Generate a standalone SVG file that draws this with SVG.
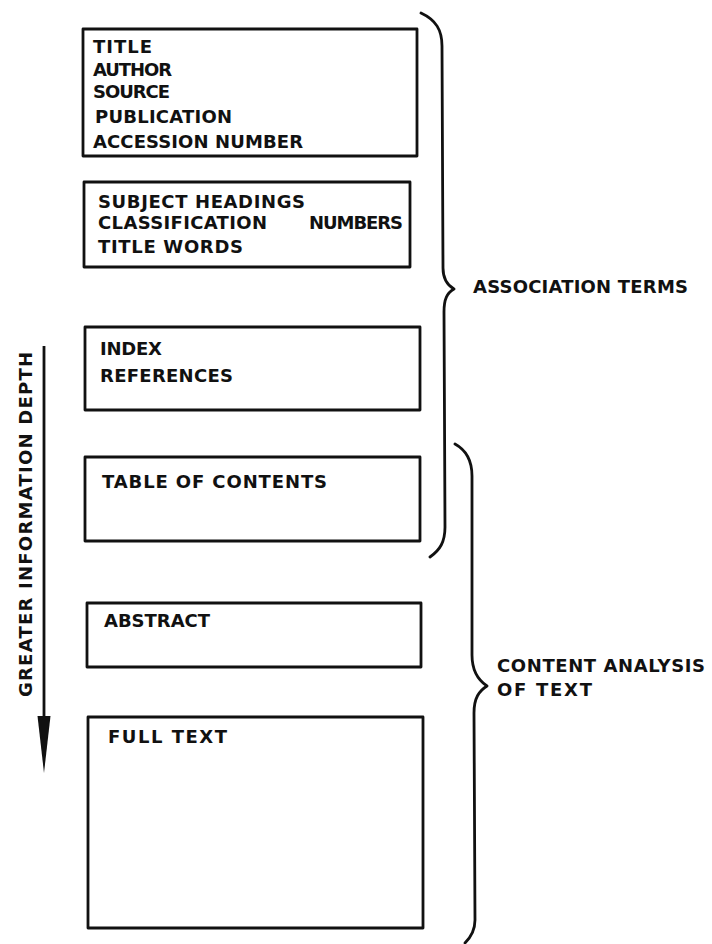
<svg xmlns="http://www.w3.org/2000/svg" width="712" height="944" viewBox="0 0 712 944">
  <style>
    .box { fill: none; stroke: #111; stroke-width: 2.8; stroke-linejoin: round; }
    .brace { fill: none; stroke: #111; stroke-width: 2.8; stroke-linecap: round; stroke-linejoin: round; }
    .lbl { font-family: "DejaVu Sans", "Liberation Sans", sans-serif; font-weight: bold; font-size: 18px; fill: #111; }
  </style>
  <rect width="712" height="944" fill="#fff"/>

  <!-- record levels, shallow to deep -->
  <g id="node-bibliographic">
    <rect class="box" x="83" y="29" width="334" height="127"/>
    <text class="lbl" x="93" y="53" textLength="59" lengthAdjust="spacing">TITLE</text>
    <text class="lbl" x="93" y="76" textLength="79" lengthAdjust="spacing">AUTHOR</text>
    <text class="lbl" x="93" y="98" textLength="77" lengthAdjust="spacing">SOURCE</text>
    <text class="lbl" x="95" y="123" textLength="137" lengthAdjust="spacing">PUBLICATION</text>
    <text class="lbl" x="93" y="148" textLength="210" lengthAdjust="spacing">ACCESSION NUMBER</text>
  </g>

  <g id="node-subject">
    <rect class="box" x="84" y="182" width="326" height="85"/>
    <text class="lbl" x="98" y="208" textLength="207" lengthAdjust="spacing">SUBJECT HEADINGS</text>
    <text class="lbl" x="98" y="229" textLength="169" lengthAdjust="spacing">CLASSIFICATION</text>
    <text class="lbl" x="309" y="229" textLength="94" lengthAdjust="spacing">NUMBERS</text>
    <text class="lbl" x="98" y="253" textLength="145" lengthAdjust="spacing">TITLE WORDS</text>
  </g>

  <g id="node-index">
    <rect class="box" x="85" y="327" width="335" height="83"/>
    <text class="lbl" x="100" y="355" textLength="62" lengthAdjust="spacing">INDEX</text>
    <text class="lbl" x="100" y="382" textLength="133" lengthAdjust="spacing">REFERENCES</text>
  </g>

  <g id="node-contents">
    <rect class="box" x="85" y="457" width="335" height="84"/>
    <text class="lbl" x="102" y="488" textLength="225" lengthAdjust="spacing">TABLE OF CONTENTS</text>
  </g>

  <g id="node-abstract">
    <rect class="box" x="87" y="603" width="334" height="64"/>
    <text class="lbl" x="104" y="627" textLength="106" lengthAdjust="spacing">ABSTRACT</text>
  </g>

  <g id="node-fulltext">
    <rect class="box" x="88" y="717" width="335" height="211"/>
    <text class="lbl" x="108" y="743" textLength="119" lengthAdjust="spacing">FULL TEXT</text>
  </g>

  <!-- depth axis and the two braces -->
  <g id="connectors">
    <line x1="44" y1="346" x2="44" y2="722" stroke="#111" stroke-width="2.8"/>
    <polygon points="37.5,716 50.5,716 44,773" fill="#111"/>

    <path class="brace" d="M421,13 C436,20 442,30 442,46 L443,268 C443,279 447,285 454,289 C447,293 444,299 444,312 L445,527 C445,542 440,550 430,557"/>
    <path class="brace" d="M455,444 C466,450 472,460 472,476 L472,655 C472,670 478,680 487,686 C479,691 474,698 474,713 L475,920 C475,930 471,937 465,943"/>
  </g>

  <g id="labels">
    <text class="lbl" transform="translate(32,697) rotate(-90)" x="0" y="0" textLength="345" lengthAdjust="spacing">GREATER INFORMATION DEPTH</text>
    <text class="lbl" x="473" y="293" textLength="215" lengthAdjust="spacing">ASSOCIATION TERMS</text>
    <text class="lbl" x="497" y="672" textLength="208" lengthAdjust="spacing">CONTENT ANALYSIS</text>
    <text class="lbl" x="497" y="696" textLength="95" lengthAdjust="spacing">OF TEXT</text>
  </g>
</svg>
